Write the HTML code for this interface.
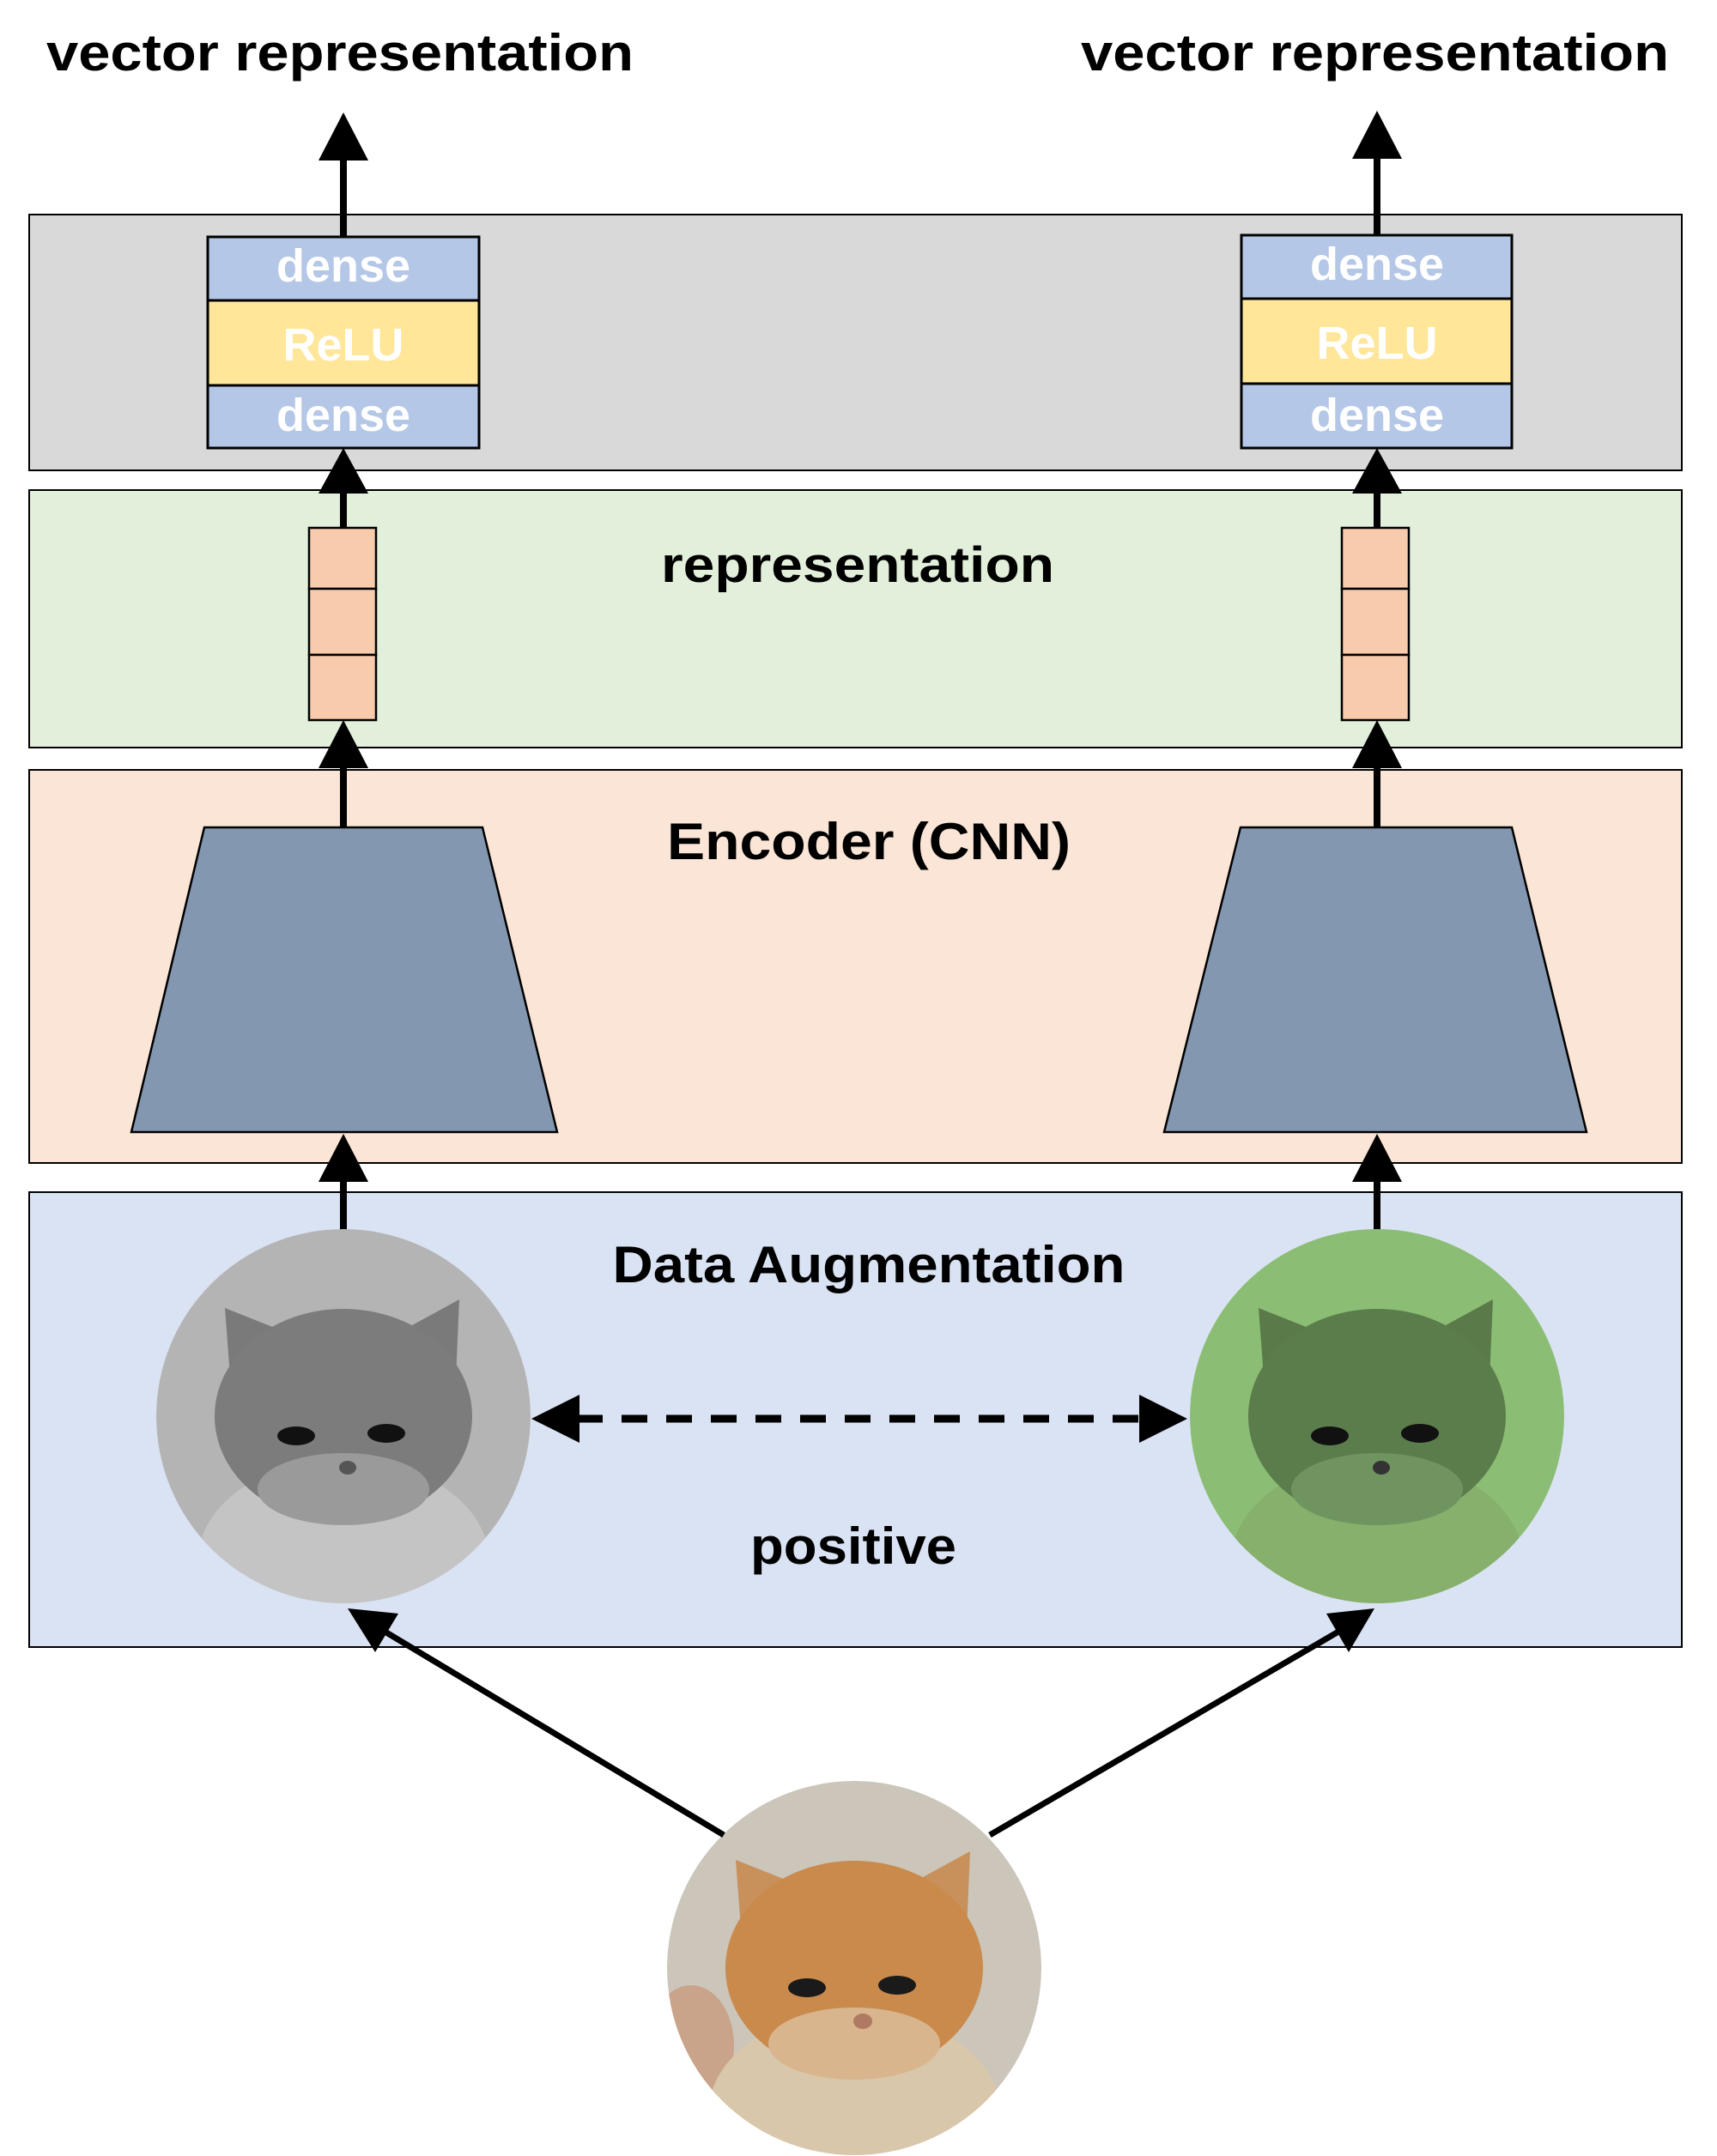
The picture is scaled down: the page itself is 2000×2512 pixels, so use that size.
<!DOCTYPE html>
<html><head><meta charset="utf-8"><style>
html,body{margin:0;padding:0;background:#fff}
svg{display:block}
text{font-family:"Liberation Sans","NanumGothic",sans-serif;font-weight:bold}
</style></head><body>
<svg width="2000" height="2512" viewBox="0 0 2000 2512" xmlns="http://www.w3.org/2000/svg">
<defs>
<clipPath id="cc"><circle cx="0" cy="0" r="218"/></clipPath>
</defs>
<text x="54" y="82" font-size="60" textLength="684" lengthAdjust="spacingAndGlyphs">vector representation</text>
<text x="1259" y="82" font-size="60" textLength="685" lengthAdjust="spacingAndGlyphs">vector representation</text>

<rect x="34" y="250" width="1925" height="298" fill="#d9d9d9" stroke="#000" stroke-width="2"/>
<rect x="34" y="571" width="1925" height="300" fill="#e2efda" stroke="#000" stroke-width="2"/>
<rect x="34" y="897" width="1925" height="458" fill="#fbe5d6" stroke="#000" stroke-width="2"/>
<rect x="34" y="1389" width="1925" height="530" fill="#dae3f3" stroke="#000" stroke-width="2"/>

<text x="999" y="678" font-size="58" text-anchor="middle" textLength="458" lengthAdjust="spacingAndGlyphs">representation</text>
<text x="1012" y="1001" font-size="60" text-anchor="middle" textLength="470" lengthAdjust="spacingAndGlyphs">Encoder (CNN)</text>
<text x="1012" y="1494" font-size="60" text-anchor="middle" textLength="597" lengthAdjust="spacingAndGlyphs">Data Augmentation</text>
<text x="994" y="1822" font-size="60" text-anchor="middle" textLength="240" lengthAdjust="spacingAndGlyphs">positive</text>

<g stroke="#000" stroke-width="3">
<rect x="242" y="276" width="316" height="74" fill="#b4c7e7"/>
<rect x="242" y="350" width="316" height="99" fill="#ffe699"/>
<rect x="242" y="449" width="316" height="73" fill="#b4c7e7"/>
<rect x="1446" y="274" width="315" height="74" fill="#b4c7e7"/>
<rect x="1446" y="348" width="315" height="99" fill="#ffe699"/>
<rect x="1446" y="447" width="315" height="75" fill="#b4c7e7"/>
</g>
<g fill="#fff" font-size="54" text-anchor="middle">
<text x="400" y="328">dense</text><text x="400" y="420">ReLU</text><text x="400" y="502">dense</text>
<text x="1604" y="326">dense</text><text x="1604" y="418">ReLU</text><text x="1604" y="502">dense</text>
</g>

<g stroke="#000" stroke-width="2.5" fill="#f8cbad">
<rect x="360" y="615" width="78" height="71"/><rect x="360" y="686" width="78" height="77"/><rect x="360" y="763" width="78" height="76"/>
<rect x="1563" y="615" width="78" height="71"/><rect x="1563" y="686" width="78" height="77"/><rect x="1563" y="763" width="78" height="76"/>
</g>

<polygon points="238,964 562,964 649,1319 153,1319" fill="#8497b0" stroke="#000" stroke-width="2.5"/>
<polygon points="1445,964 1761,964 1848,1319 1356,1319" fill="#8497b0" stroke="#000" stroke-width="2.5"/>

<g stroke="#000" stroke-width="8">
<line x1="400" y1="276" x2="400" y2="180"/><line x1="1604" y1="274" x2="1604" y2="180"/>
<line x1="400" y1="615" x2="400" y2="565"/><line x1="1604" y1="615" x2="1604" y2="565"/>
<line x1="400" y1="964" x2="400" y2="880"/><line x1="1604" y1="964" x2="1604" y2="880"/>
<line x1="400" y1="1434" x2="400" y2="1360"/><line x1="1604" y1="1434" x2="1604" y2="1360"/>
</g>
<g fill="#000">
<polygon points="400,131 429,187 371,187"/><polygon points="1604,129 1633,185 1575,185"/>
<polygon points="400,522 429,575 371,575"/><polygon points="1604,522 1633,575 1575,575"/>
<polygon points="400,839 429,895 371,895"/><polygon points="1604,839 1633,895 1575,895"/>
<polygon points="400,1321 429,1377 371,1377"/><polygon points="1604,1321 1633,1377 1575,1377"/>
</g>

<g transform="translate(400,1650)" clip-path="url(#cc)">
<circle r="218" fill="#b4b4b4"/>
<ellipse cx="0" cy="170" rx="170" ry="120" fill="#c4c4c4"/>
<polygon points="-138,-126 -60,-95 -130,-20" fill="#7a7a7a"/>
<polygon points="135,-136 60,-95 130,-20" fill="#7a7a7a"/>
<ellipse cx="0" cy="0" rx="150" ry="125" fill="#7c7c7c"/>
<ellipse cx="0" cy="85" rx="100" ry="42" fill="#9a9a9a"/>
<ellipse cx="-55" cy="23" rx="22" ry="11" fill="#111"/><ellipse cx="50" cy="20" rx="22" ry="11" fill="#111"/>
<ellipse cx="5" cy="60" rx="10" ry="8" fill="#555"/>
</g>
<g transform="translate(1604,1650)" clip-path="url(#cc)">
<circle r="218" fill="#8bbd74"/>
<ellipse cx="0" cy="170" rx="170" ry="120" fill="#86b06c"/>
<polygon points="-138,-126 -60,-95 -130,-20" fill="#5a7a4a"/>
<polygon points="135,-136 60,-95 130,-20" fill="#5a7a4a"/>
<ellipse cx="0" cy="0" rx="150" ry="125" fill="#5b7c4b"/>
<ellipse cx="0" cy="85" rx="100" ry="42" fill="#6f9460"/>
<ellipse cx="-55" cy="23" rx="22" ry="11" fill="#111"/><ellipse cx="50" cy="20" rx="22" ry="11" fill="#111"/>
<ellipse cx="5" cy="60" rx="10" ry="8" fill="#333"/>
</g>
<g transform="translate(995,2293)" clip-path="url(#cc)">
<circle r="218" fill="#cbc5ba"/>
<ellipse cx="-190" cy="90" rx="50" ry="70" fill="#c9a48a"/>
<ellipse cx="0" cy="170" rx="170" ry="120" fill="#d9c7ab"/>
<polygon points="-138,-126 -60,-95 -130,-20" fill="#c8905a"/>
<polygon points="135,-136 60,-95 130,-20" fill="#c8905a"/>
<ellipse cx="0" cy="0" rx="150" ry="125" fill="#c98a4c"/>
<ellipse cx="0" cy="88" rx="100" ry="42" fill="#d9b58e"/>
<ellipse cx="-55" cy="23" rx="22" ry="11" fill="#1a1a1a"/><ellipse cx="50" cy="20" rx="22" ry="11" fill="#1a1a1a"/>
<ellipse cx="10" cy="62" rx="11" ry="9" fill="#b07a62"/>
</g>

<line x1="672" y1="1653" x2="1330" y2="1653" stroke="#000" stroke-width="9" stroke-dasharray="30,22"/>
<polygon points="619,1653 675,1625 675,1681" fill="#000"/>
<polygon points="1383,1653 1327,1625 1327,1681" fill="#000"/>

<g stroke="#000" stroke-width="7">
<line x1="843" y1="2138" x2="430" y2="1890"/>
<line x1="1153" y1="2138" x2="1578" y2="1890"/>
</g>
<polygon points="405,1874 464,1880 437,1925" fill="#000"/>
<polygon points="1601,1874 1571,1925 1545,1880" fill="#000"/>
</svg>
</body></html>
